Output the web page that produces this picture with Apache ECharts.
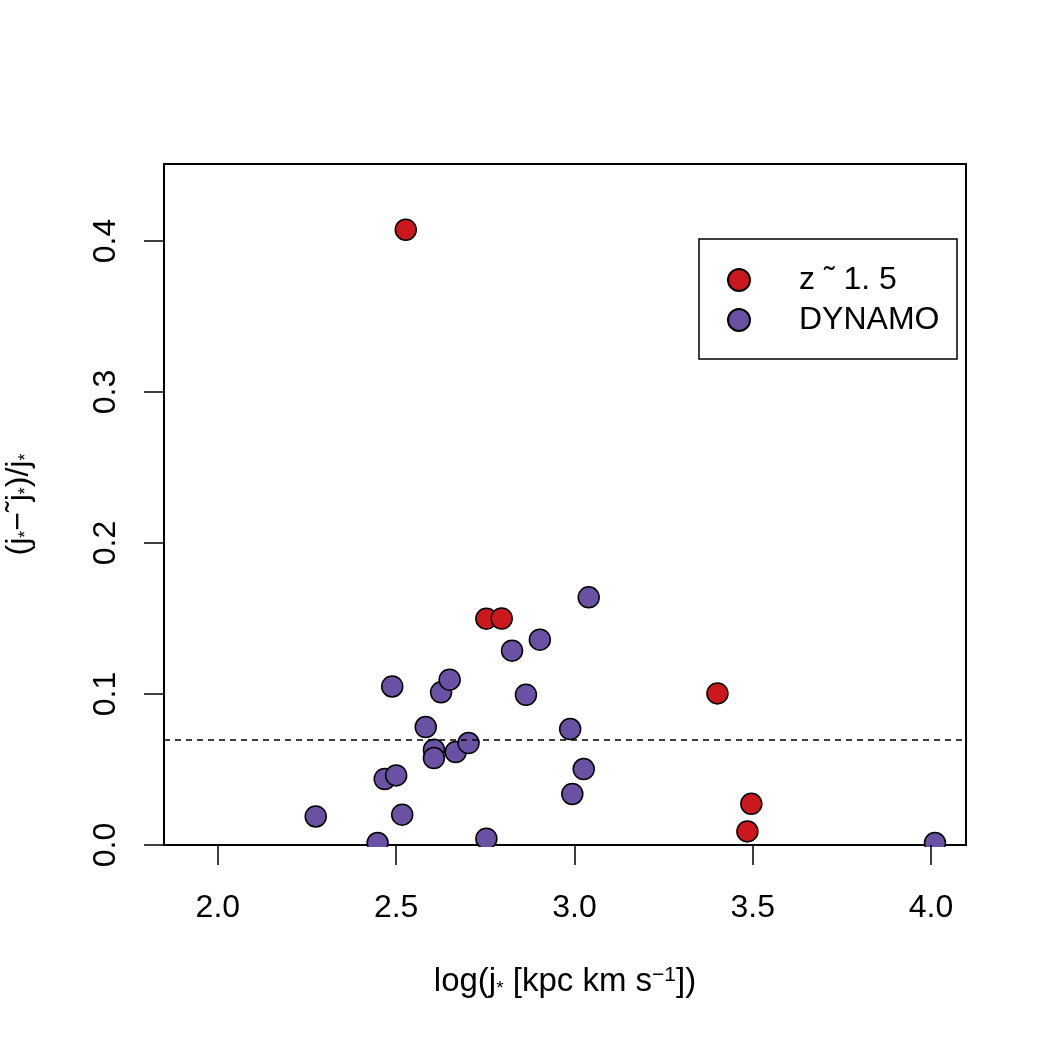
<!DOCTYPE html>
<html>
<head>
<meta charset="utf-8">
<script src="https://cdn.jsdelivr.net/npm/echarts@6/dist/echarts.min.js"></script>
<style>
html, body { margin: 0; padding: 0; background: #fff; }
#main { width: 1050px; height: 1050px; }
</style>
</head>
<body>
<div id="main"></div>
<script>
// z~1.5 sample: log(j*) and (j* - j~*)/j*
var z15X = [2.527, 2.753, 2.796, 3.401, 3.496, 3.485];
var z15Y = [0.4075, 0.1499, 0.150, 0.1004, 0.0273, 0.0090];

// DYNAMO sample
var dynX = [2.2745, 2.448, 2.489, 2.468, 2.500, 2.517, 2.583, 2.606, 2.606, 2.626, 2.650,
            2.667, 2.703, 2.753, 3.040, 2.825, 2.903, 2.864, 2.988, 3.026, 2.994, 4.011];
var dynY = [0.0189, 0.0013, 0.105, 0.0437, 0.0461, 0.0201, 0.0781, 0.0631, 0.0576, 0.1011, 0.1095,
            0.0616, 0.0675, 0.0042, 0.164, 0.1287, 0.136, 0.0995, 0.0768, 0.0503, 0.0338, 0.0013];

var seriesNames = ['z \u02dc 1. 5', 'DYNAMO'];
var xTicks = [2.0, 2.5, 3.0, 3.5, 4.0];
var yTicks = [0.0, 0.1, 0.2, 0.3, 0.4];
var meanLine = 0.0675;

var FONT = '"Liberation Sans", Arial, Helvetica, sans-serif';

function pairs(xs, ys) {
    return xs.map(function (x, i) { return [x, ys[i]]; });
}

var myChart = echarts.init(document.getElementById('main'));
myChart.setOption({
    backgroundColor: '#fff',
    animation: false,
    textStyle: { fontFamily: FONT },
    grid: {
        left: 164, top: 164, right: 84, bottom: 205,
        outerBoundsMode: 'none',
        containLabel: false,
        show: true, borderColor: '#000', borderWidth: 2
    },
    xAxis: {
        type: 'value',
        min: 1.849, max: 4.098,
        z: 6,
        name: 'log(j{s|*} [kpc km s{p|\u22121}])',
        nameLocation: 'middle',
        nameGap: 120,
        nameTextStyle: {
            fontSize: 33, color: '#000', fontFamily: FONT,
            rich: {
                s: { fontSize: 19, lineHeight: 6, verticalAlign: 'bottom', color: '#000', fontFamily: FONT },
                p: { fontSize: 21, lineHeight: 22, verticalAlign: 'top', color: '#000', fontFamily: FONT }
            }
        },
        axisLine: { show: false },
        axisTick: { show: true, inside: false, length: 20, customValues: xTicks, lineStyle: { color: '#000', width: 1.5 } },
        axisLabel: {
            customValues: xTicks, margin: 47, fontSize: 32, color: '#000', fontFamily: FONT,
            formatter: function (v) { return v.toFixed(1); }
        },
        splitLine: { show: false }
    },
    yAxis: {
        type: 'value',
        min: 0, max: 0.451,
        name: '(j{s|*}\u2212\u02dcj{s|*})/j{s|*}',
        nameLocation: 'middle',
        nameGap: 129,
        nameTextStyle: {
            fontSize: 32, color: '#000', fontFamily: FONT,
            rich: {
                s: { fontSize: 18, lineHeight: 6, verticalAlign: 'bottom', color: '#000', fontFamily: FONT }
            }
        },
        axisLine: { show: false },
        axisTick: { show: true, inside: false, length: 20, customValues: yTicks, lineStyle: { color: '#000', width: 1.5 } },
        axisLabel: {
            customValues: yTicks, rotate: 90, margin: 42, fontSize: 32, color: '#000', fontFamily: FONT,
            formatter: function (v) { return v.toFixed(1); }
        },
        splitLine: { show: false }
    },
    legend: {
        orient: 'vertical',
        left: 727, top: 264,
        padding: 0,
        itemWidth: 22, itemHeight: 22, itemGap: 8,
        icon: 'circle',
        selectedMode: false,
        z: 10,
        textStyle: { fontSize: 32, color: '#000', fontFamily: FONT, padding: [0, 0, 0, 44] },
        data: seriesNames
    },
    graphic: [
        {
            // legend frame
            type: 'rect', z: 9,
            shape: { x: 699, y: 239, width: 258, height: 120 },
            style: { fill: 'none', stroke: '#000', lineWidth: 1.5 }
        },
        {
            // clip symbols at the bottom of the plot box like R does
            type: 'rect', z: 5,
            shape: { x: 150, y: 847, width: 830, height: 30 },
            style: { fill: '#fff' }
        }
    ],
    series: [
        {
            name: seriesNames[1],
            type: 'scatter',
            symbol: 'circle',
            symbolSize: 21,
            itemStyle: { color: '#6A51A3', borderColor: '#000', borderWidth: 1.5, opacity: 1 },
            data: pairs(dynX, dynY),
            markLine: {
                silent: true,
                symbol: 'none',
                label: { show: false },
                lineStyle: { color: '#000', type: [6, 5], width: 1.5 },
                data: [{ yAxis: meanLine }]
            }
        },
        {
            name: seriesNames[0],
            type: 'scatter',
            symbol: 'circle',
            symbolSize: 21,
            itemStyle: { color: '#CB181D', borderColor: '#000', borderWidth: 1.5, opacity: 1 },
            data: pairs(z15X, z15Y)
        }
    ]
});
</script>
</body>
</html>
